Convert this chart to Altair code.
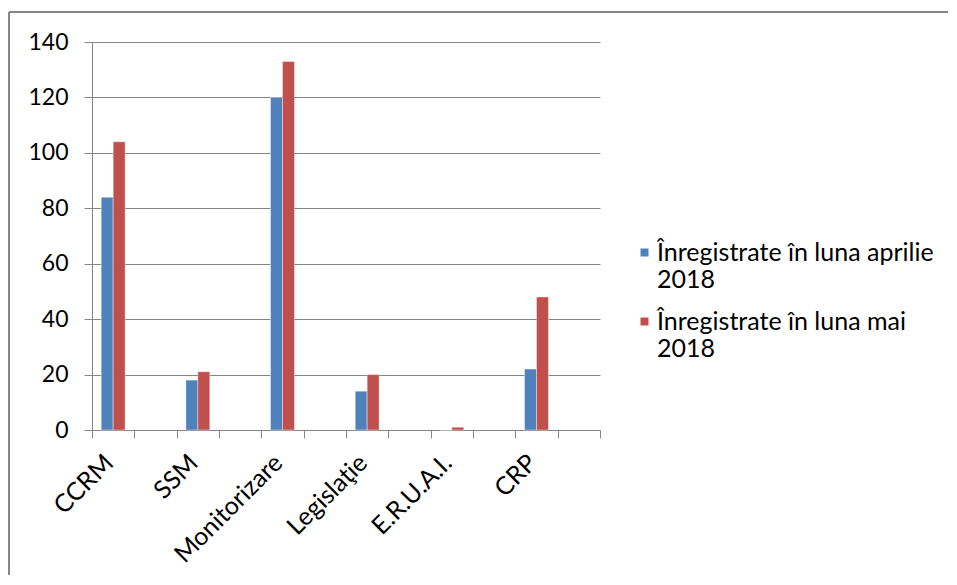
import altair as alt
import pandas as pd

categories = ["CCRM", "SSM", "Monitorizare", "Legislaţie", "E.R.U.A.I.", "CRP"]
series = ["Înregistrate în luna aprilie 2018", "Înregistrate în luna mai 2018"]
april = [84, 18, 120, 14, 0, 22]
may = [104, 21, 133, 20, 1, 48]
y_ticks = [0, 20, 40, 60, 80, 100, 120, 140]

rows = []
for c, a, m in zip(categories, april, may):
    rows.append({"cat": c, "series": series[0], "value": a})
    rows.append({"cat": c, "series": series[1], "value": m})
df = pd.DataFrame(rows)

# Excel chart has an empty category slot after each real one
domain = []
for i, c in enumerate(categories):
    domain.append(c)
    domain.append(" " * (i + 1))

FONT = "Lato"
GRAY = "#868686"

bars = alt.Chart(df).mark_bar(strokeWidth=0.8, strokeOpacity=0.5, stroke="#ffffff").encode(
    x=alt.X(
        "cat:N",
        sort=domain,
        scale=alt.Scale(domain=domain, paddingInner=0, paddingOuter=0),
        axis=alt.Axis(
            title=None, labelAngle=-45, labelAlign="right", labelBaseline="top",
            tickBand="extent", labelOffset=-13,
            labelFont=FONT, labelFontSize=25, labelColor="#000000",
            domainColor=GRAY, tickColor=GRAY, tickSize=8, labelPadding=12,
        ),
    ),
    xOffset=alt.XOffset("series:N", scale=alt.Scale(domain=series, paddingInner=0, paddingOuter=0.77)),
    y=alt.Y(
        "value:Q",
        scale=alt.Scale(domain=[0, 140]),
        axis=alt.Axis(
            title=None, values=y_ticks, grid=True, gridColor=GRAY, gridOpacity=1,
            domainColor=GRAY, tickColor=GRAY, tickSize=8, labelPadding=16,
            labelFont=FONT, labelFontSize=23, labelColor="#000000",
        ),
    ),
    color=alt.Color(
        "series:N",
        scale=alt.Scale(domain=series, range=["#4F81BD", "#C0504D"]),
        legend=alt.Legend(
            title=None, orient="none", legendX=528, legendY=198, padding=0,
            symbolType="square", symbolSize=64, symbolStrokeWidth=0, symbolOffset=12,
            labelFont=FONT, labelFontSize=25, labelColor="#000000",
            labelLimit=400, rowPadding=16, labelOffset=0,
            labelExpr="[slice(datum.label, 0, lastindexof(datum.label, ' ')), slice(datum.label, lastindexof(datum.label, ' ') + 1)]",
        ),
    ),
)

one = pd.DataFrame({"a": [0]})
top_border = alt.Chart(one).mark_rule(color=GRAY, strokeWidth=2).encode(
    x=alt.value(-83), x2=alt.value(900), y=alt.value(-30)
)
left_border = alt.Chart(one).mark_rule(color=GRAY, strokeWidth=2).encode(
    x=alt.value(-83), y=alt.value(-30), y2=alt.value(560)
)

chart = alt.layer(bars, top_border, left_border).properties(
    width=508, height=388,
    autosize=alt.AutoSizeParams(type="none"),
    padding={"left": 84, "top": 34, "right": 348, "bottom": 145},
).configure_view(stroke=None)

chart.save("out.html", embed_options={"renderer": "svg", "actions": False})
